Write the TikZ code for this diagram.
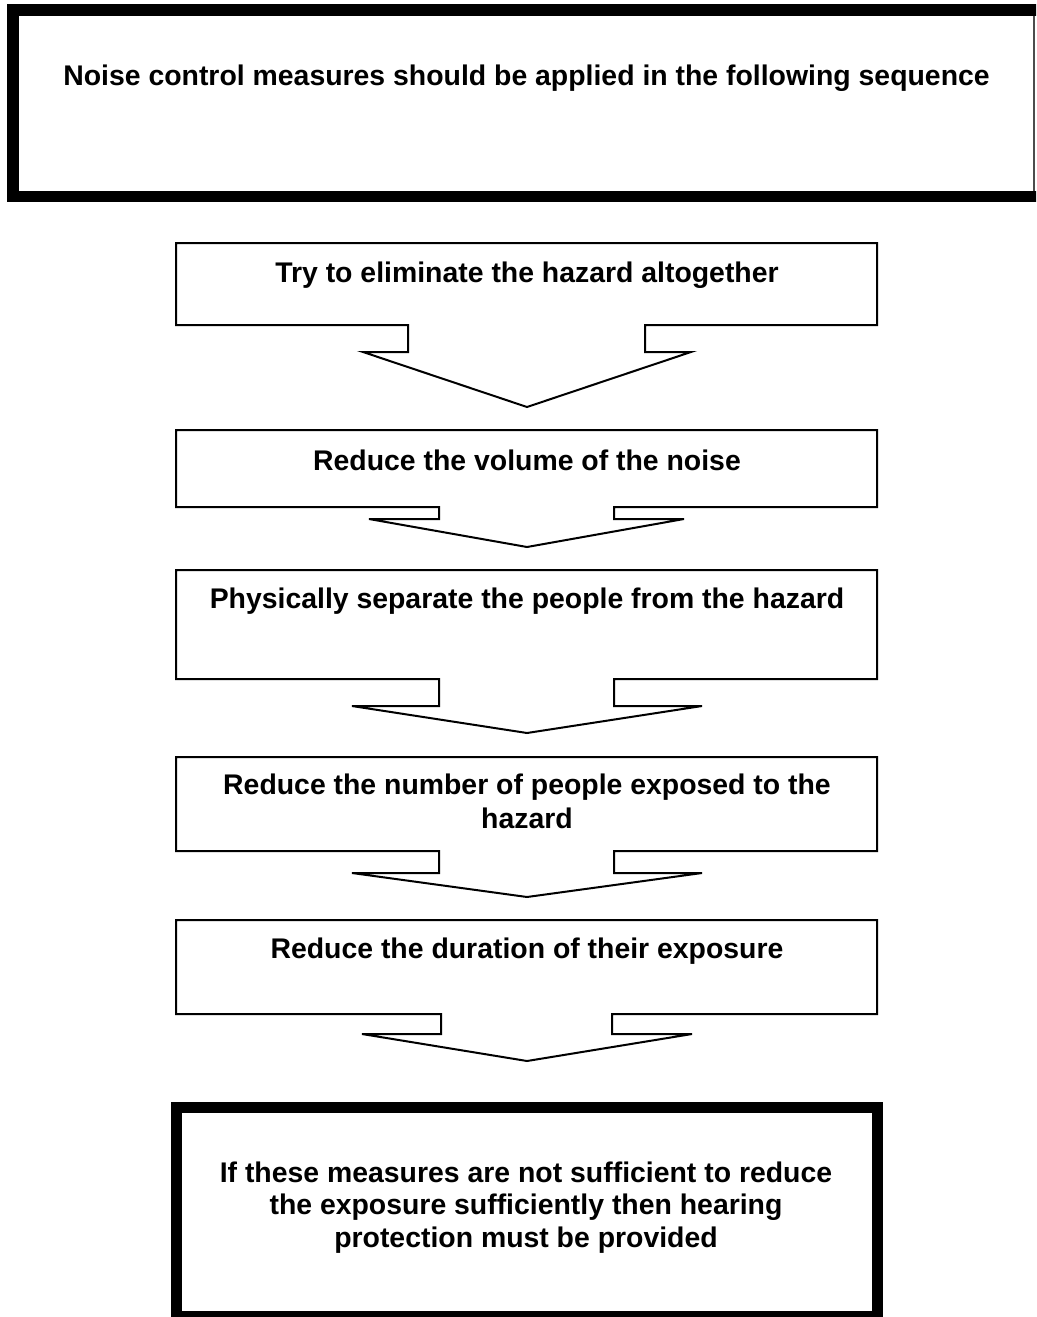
\documentclass[tikz,border=0pt]{standalone}
\usepackage{fontspec}
\setmainfont{Liberation Sans}
\begin{document}
\begin{tikzpicture}[x=1pt,y=-1pt,
  steptext/.style={anchor=base,inner sep=0pt,align=center,
    font=\bfseries\fontsize{28.4}{33.5}\selectfont},
  stepline/.style={draw=black,line width=2pt,line join=miter},
  heavyline/.style={draw=black,line width=11.6pt}]
\useasboundingbox (0,0) rectangle (1036,1317);
\clip (0,0) rectangle (1036,1317);

% heading frame: heavy on three sides, light on the right
\draw[heavyline] (1045,9.8) -- (12.8,9.8) -- (12.8,196.5) -- (1045,196.5);
\draw[line width=1.5pt,black!70] (1034,15.6) -- (1034,190.7);
\node[steptext] (head) at (526.5,85) {Noise control measures should be applied in the following sequence};

% a box whose lower edge opens into a down-pointing block arrow
% #1 top, #2 bottom, #3/#4 notch x, #5 notch y, #6/#7 wing x, #8 tip y
\newcommand{\flowstep}[8]{%
  \draw[stepline] (176,#1) -- (877,#1) -- (877,#2) -- (#4,#2) -- (#4,#5)
    -- (#7,#5) -- (527,#8) -- (#6,#5) -- (#3,#5) -- (#3,#2) -- (176,#2) -- cycle;}

\flowstep{243}{325}{408}{645}{352}{363}{691}{407}
\flowstep{430}{507}{439}{614}{519}{369}{684}{547}
\flowstep{570}{679}{439}{614}{706}{352}{702}{733}
\flowstep{757}{851}{439}{614}{873}{352}{702}{897}
\flowstep{920}{1014}{441}{612}{1034}{362}{692}{1061}

% multi-line nodes sit on the baseline of their last line
\node[steptext] (s1) at (527,282) {Try to eliminate the hazard altogether};
\node[steptext] (s2) at (527,470) {Reduce the volume of the noise};
\node[steptext] (s3) at (527,608) {Physically separate the people from the hazard};
\node[steptext] (s4) at (527,828) {Reduce the number of people exposed to the\\hazard};
\node[steptext] (s5) at (527,958) {Reduce the duration of their exposure};

% closing frame
\draw[line width=11pt] (176.5,1107.5) rectangle (877,1316.5);
\node[steptext,font=\bfseries\fontsize{28.4}{32.5}\selectfont] (final) at (526,1247)
  {If these measures are not sufficient to reduce\\the exposure sufficiently then hearing\\protection must be provided};
\end{tikzpicture}
\end{document}
